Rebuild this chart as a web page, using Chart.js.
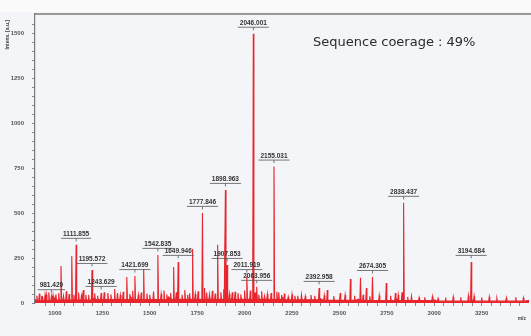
<!DOCTYPE html>
<html>
<head>
<meta charset="utf-8">
<script src="https://cdn.jsdelivr.net/npm/chart.js@4.4.0/dist/chart.umd.min.js"></script>
<style>
  html, body { margin: 0; padding: 0; background: #f4f5f8; }
  #wrap { width: 531px; height: 336px; }
</style>
</head>
<body>
<div id="wrap"><canvas id="ms" width="531" height="336"></canvas></div>
<script>
// MALDI spectrum – peaks (m/z, intensity in a.u.)

// labelled peaks
const labelMz  = [981.420, 1111.855, 1195.572, 1243.629, 1421.699, 1542.835, 1649.946, 1777.846,
                  1898.963, 1907.853, 2011.919, 2046.001, 2063.956, 2155.031, 2392.958, 2674.305,
                  2838.437, 3194.684];
const labelInt = [38, 324, 184, 56, 150, 268, 229, 502,
                  630, 212, 150, 1500, 90, 760, 84, 145,
                  558, 229];

// other visible peaks without a label
const peakMz  = [930, 948, 1032, 1089, 1163, 1279, 1315, 1379, 1468, 1626, 1700, 1726, 1789, 1858,
                 1935, 2030, 2105, 2180, 2230, 2280, 2436, 2504, 2558, 2611, 2642, 2747, 2795, 2830,
                 2920, 3020, 3180, 3330];
const peakInt = [40, 45, 206, 262, 45, 56, 78, 145, 190, 200, 45, 301, 84, 324,
                 60, 70, 40, 60, 35, 40, 72, 56, 134, 140, 84, 112, 56, 60,
                 30, 25, 40, 25];

// baseline hair
const noiseMz  = [905, 918, 935, 955, 968, 990, 1005, 1020, 1045, 1060, 1075, 1100, 1125, 1140, 1150,
                  1178, 1210, 1225, 1260, 1295, 1330, 1345, 1360, 1395, 1410, 1440, 1455, 1485, 1500,
                  1520, 1560, 1575, 1590, 1610, 1640, 1670, 1685, 1710, 1740, 1755, 1800, 1815, 1830,
                  1845, 1875, 1890, 1920, 1950, 1965, 1980, 2000, 2055, 2075, 2090, 2120, 2140, 2170,
                  2195, 2210, 2250, 2265, 2300, 2320, 2350, 2370, 2420, 2470, 2530, 2580, 2625, 2660,
                  2710, 2770, 2810, 2860, 2880, 2950, 2990, 3060, 3100, 3140, 3210, 3250, 3290, 3380,
                  3430, 3470];
const noiseInt = [40, 52, 38, 45, 60, 42, 48, 55, 40, 65,
                  50, 46, 58, 40, 72, 45, 54, 40, 60, 48,
                  56, 44, 62, 50, 68, 46, 58, 52, 45, 64,
                  50, 70, 48, 55, 60, 46, 72, 54, 50, 65,
                  58, 48, 68, 52, 60, 76, 50, 62, 55, 48,
                  70, 58, 46, 65, 50, 56, 62, 44, 52, 48,
                  40, 46, 38, 44, 40, 42, 38, 44, 40, 46,
                  38, 42, 40, 44, 34, 38, 32, 36, 30, 34,
                  32, 38, 30, 34, 28, 32, 28];

// floor of the trace
const baseMz  = [895, 1000, 1200, 1400, 1600, 1800, 2000, 2200, 2400, 2600, 2800, 3000, 3200, 3500];
const baseInt = [20, 28, 32, 32, 34, 34, 34, 30, 24, 22, 22, 17, 17, 15];

const X_MIN = 895, X_MAX = 3510, Y_MAX = 1610;
const RED = '#e8242c';

function floorAt(m) {
  let v = baseInt[0];
  for (let i = 0; i < baseMz.length; i++) if (baseMz[i] <= m) v = baseInt[i];
  return v;
}

// build trace
const trace = [];
baseMz.forEach((m, i) => trace.push({ x: m, y: baseInt[i] }));
function addSpike(m, h) {
  const f = floorAt(m);
  trace.push({ x: m - 3, y: f * 0.6 }, { x: m, y: h }, { x: m + 3, y: f * 0.6 });
}
labelMz.forEach((m, i) => addSpike(m, labelInt[i]));
peakMz.forEach((m, i) => addSpike(m, peakInt[i]));
noiseMz.forEach((m, i) => addSpike(m, noiseInt[i]));
trace.sort((a, b) => a.x - b.x);

// page furniture: background, frame, peak labels, titles
const decor = {
  id: 'decor',
  beforeDraw(chart) {
    const c = chart.ctx;
    c.save();
    c.fillStyle = '#f4f5f8';
    c.fillRect(0, 0, chart.width, chart.height);
    c.fillStyle = '#fbfbfc';
    c.fillRect(0, 0, chart.width, 12);
    c.restore();
  },
  afterDatasetsDraw(chart) {
    const c = chart.ctx, xs = chart.scales.x, ys = chart.scales.y, a = chart.chartArea;
    c.save();
    // top frame line
    c.strokeStyle = '#7a7a7a';
    c.lineWidth = 1.5;
    c.beginPath();
    c.moveTo(a.left, a.top);
    c.lineTo(chart.width, a.top);
    c.stroke();

    // peak labels
    c.font = 'bold 6.5px "Liberation Sans", Arial, sans-serif';
    c.textAlign = 'center';
    c.textBaseline = 'alphabetic';
    labelMz.forEach((m, i) => {
      const px = xs.getPixelForValue(m);
      const py = ys.getPixelForValue(labelInt[i]);
      const txt = m.toFixed(3);
      const w = c.measureText(txt).width;
      c.fillStyle = '#333';
      c.fillText(txt, px, py - 9);
      c.strokeStyle = '#555';
      c.lineWidth = 0.8;
      c.beginPath();
      c.moveTo(px - w / 2 - 2, py - 6.5);
      c.lineTo(px + w / 2 + 2, py - 6.5);
      c.moveTo(px, py - 6.5);
      c.lineTo(px, py - 3.5);
      c.stroke();
    });

    // coverage note
    c.fillStyle = '#2a2a2a';
    c.font = '13px "DejaVu Sans", sans-serif';
    c.textAlign = 'left';
    c.textBaseline = 'middle';
    c.fillText('Sequence coerage : 49%', 313, 43);

    // axis titles
    c.fillStyle = '#444';
    c.font = 'bold 5px "Liberation Sans", Arial, sans-serif';
    c.textAlign = 'right';
    c.textBaseline = 'alphabetic';
    c.fillText('m/z', 526, 320);
    c.translate(9, 20);
    c.rotate(-Math.PI / 2);
    c.fillText('Intens. [a.u.]', 0, 0);
    c.restore();
  }
};

new Chart(document.getElementById('ms'), {
  type: 'line',
  data: {
    datasets: [{
      data: trace,
      borderColor: RED,
      backgroundColor: RED,
      borderWidth: 1.1,
      pointRadius: 0,
      tension: 0,
      fill: 'origin',
    }]
  },
  options: {
    responsive: false,
    animation: false,
    parsing: false,
    layout: { padding: { top: 14, right: 0, left: 0, bottom: 0 } },
    plugins: { legend: { display: false }, tooltip: { enabled: false } },
    scales: {
      x: {
        type: 'linear',
        min: X_MIN,
        max: X_MAX,
        afterBuildTicks: s => { s.ticks = s.ticks.filter(t => t.value % 50 === 0); },
        afterFit: s => { s.height = 33; s.paddingRight = 0; },
        grid: { drawOnChartArea: false, tickLength: 3, color: '#888' },
        border: { display: false },
        ticks: {
          stepSize: 50,
          autoSkip: false,
          maxRotation: 0,
          padding: 4,
          color: '#555',
          font: { family: 'Liberation Sans', size: 6, weight: 'bold' },
          callback: v => (v % 250 === 0 && v <= 3250 ? String(v) : '')
        }
      },
      y: {
        min: 0,
        max: Y_MAX,
        afterBuildTicks: s => { s.ticks = s.ticks.filter(t => t.value % 50 === 0); },
        afterFit: s => { s.width = 35; },
        grid: { drawOnChartArea: false, tickLength: 3, color: '#888' },
        border: { display: true, color: '#7a7a7a', width: 1.2 },
        ticks: {
          stepSize: 50,
          autoSkip: false,
          padding: 8,
          color: '#555',
          font: { family: 'Liberation Sans', size: 6, weight: 'bold' },
          callback: v => (v % 250 === 0 ? String(v) : '')
        }
      }
    }
  },
  plugins: [decor]
});
</script>
</body>
</html>
